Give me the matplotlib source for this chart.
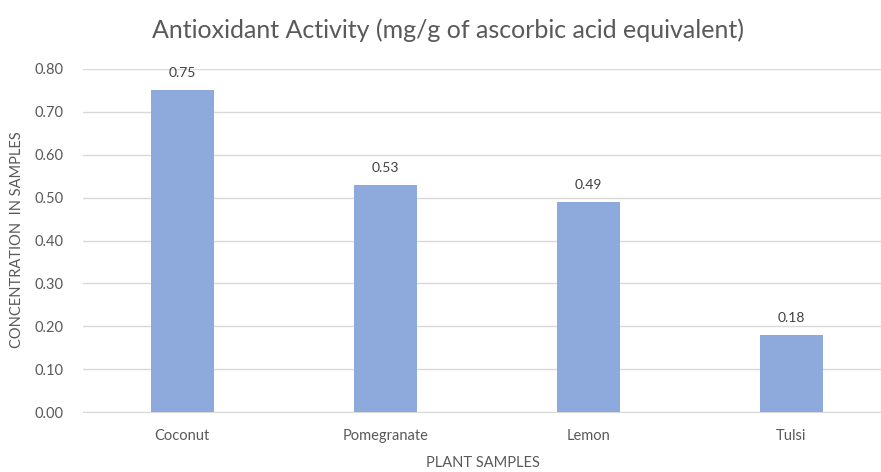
import matplotlib
matplotlib.use('Agg')
import matplotlib.pyplot as plt
import numpy as np

plt.rcParams['font.family'] = ['Lato', 'DejaVu Sans']

samples = ['Coconut', 'Pomegranate', 'Lemon', 'Tulsi']
activity = [0.75, 0.53, 0.49, 0.18]
y_ticks = [0.0, 0.1, 0.2, 0.3, 0.4, 0.5, 0.6, 0.7, 0.8]

gray = '#595959'
bar_color = '#8EA9DB'

fig = plt.figure(figsize=(8.81, 4.72), dpi=100)
ax = fig.add_axes([83 / 881, 1 - 412 / 472, 1 - 83 / 881, (412 - 69) / 472])

x = np.arange(len(samples))
ax.bar(x, activity, width=0.31, color=bar_color, zorder=3)

for xi, v in zip(x, activity):
    ax.annotate(f'{v:.2f}', (xi, v), xytext=(0, 8), textcoords='offset points',
                ha='center', va='bottom', fontsize=10, color='#404040')

ax.set_xlim(-0.488, 3.443)
ax.set_ylim(0, 0.8)
ax.set_yticks(y_ticks)
ax.set_yticklabels([f'{t:.2f}' for t in y_ticks])
ax.set_xticks(x)
ax.set_xticklabels(samples)
ax.tick_params(axis='both', length=0, colors=gray, labelsize=10.5)
ax.tick_params(axis='x', pad=12)
ax.tick_params(axis='y', pad=14)
ax.grid(axis='y', color='#D9D9D9', linewidth=1, zorder=0)
for s in ['top', 'right', 'left']:
    ax.spines[s].set_visible(False)
ax.spines['bottom'].set_color('#D9D9D9')

fig.text(17 / 881, 1 - 240 / 472, 'CONCENTRATION  IN SAMPLES', rotation=90,
         ha='center', va='center', fontsize=10.5, color=gray)
fig.text(483 / 881, 1 - 463 / 472, 'PLANT SAMPLES', ha='center', va='center',
         fontsize=10.5, color=gray)
fig.text(448 / 881, 1 - 30 / 472, 'Antioxidant Activity (mg/g of ascorbic acid equivalent)',
         ha='center', va='center', fontsize=18, color=gray)

fig.savefig('out.png', dpi=100)
